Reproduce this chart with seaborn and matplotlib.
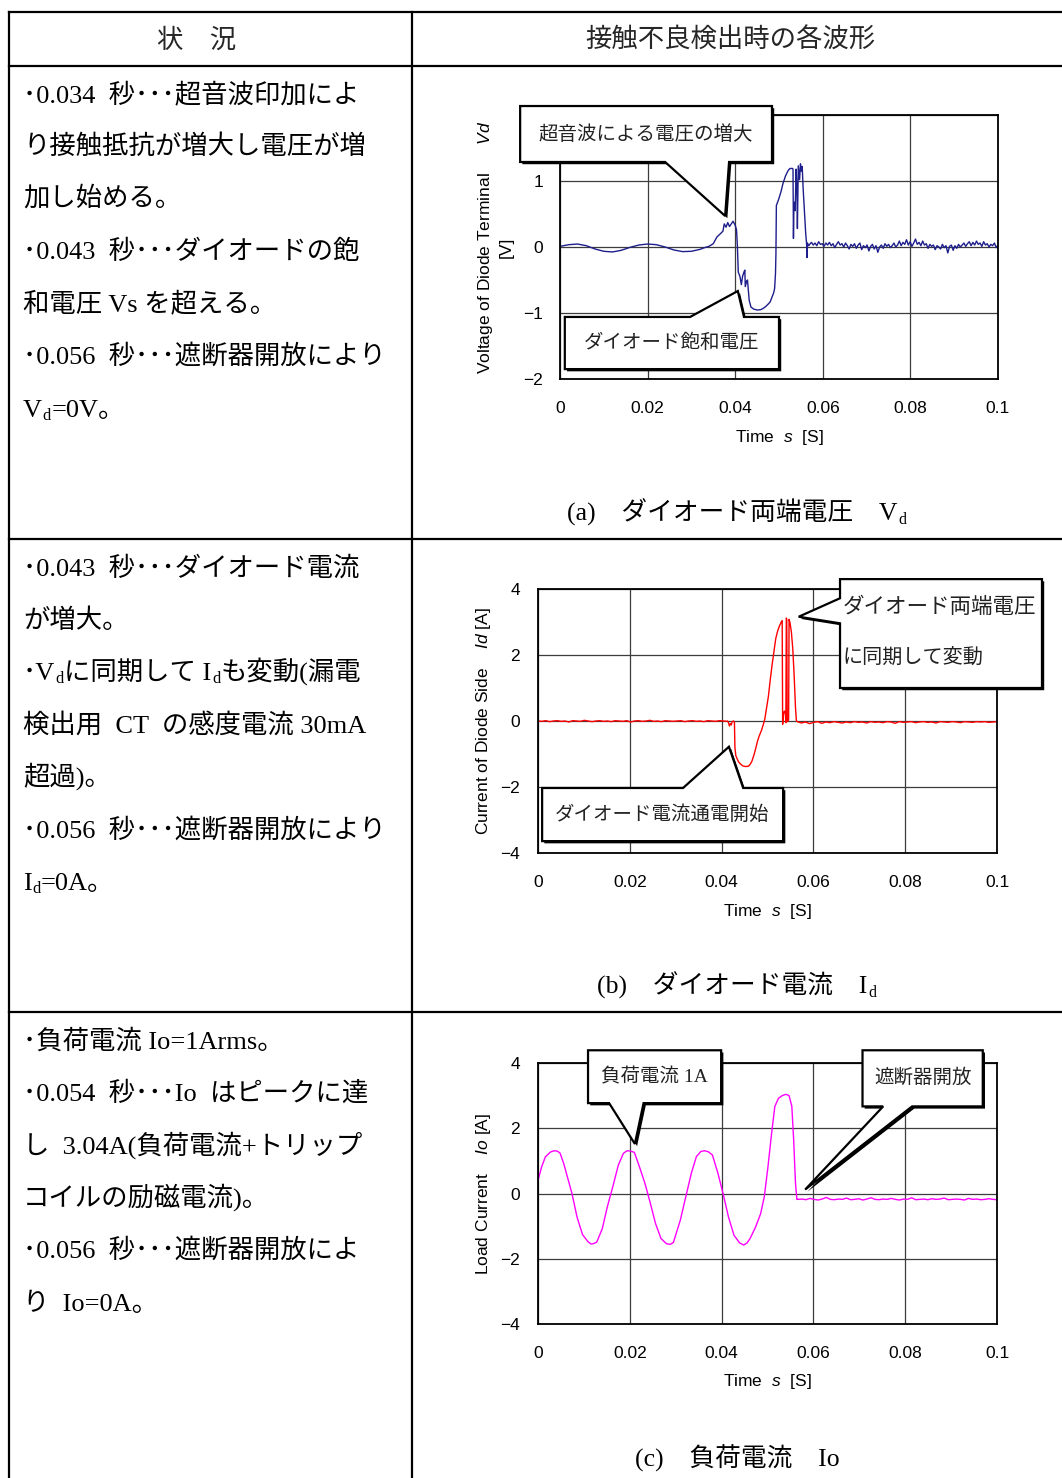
import numpy as np
import pandas as pd
import seaborn as sns
import matplotlib
matplotlib.use("Agg")
import matplotlib.pyplot as plt
from matplotlib.patches import Polygon
from matplotlib.lines import Line2D
from matplotlib.transforms import IdentityTransform
import matplotlib.patheffects as pe

# ---------------------------------------------------------------- data
X_TICKS = [0, 0.02, 0.04, 0.06, 0.08, 0.1]
X_TICK_LABELS = ["0", "0.02", "0.04", "0.06", "0.08", "0.1"]

# (a) diode terminal voltage Vd [V]
VD_T = [0.000, 0.002, 0.004, 0.006, 0.008, 0.010, 0.012, 0.014, 0.016, 0.018,
        0.020, 0.022, 0.024, 0.026, 0.028, 0.030, 0.032, 0.033, 0.034, 0.035,
        0.0358, 0.0366, 0.0372, 0.0375, 0.0379, 0.0383, 0.0387, 0.0390, 0.0395, 0.0400,
        0.0403, 0.0405, 0.0407, 0.0411, 0.0414, 0.0417, 0.0420, 0.0422, 0.0423, 0.0426,
        0.0428, 0.0432, 0.0436, 0.0442, 0.0450, 0.0458, 0.0464, 0.0470, 0.0476, 0.0480,
        0.0484, 0.0488, 0.0490, 0.0492, 0.0493, 0.0494, 0.0498, 0.0501, 0.0505, 0.0509,
        0.0515, 0.0521, 0.0525, 0.0531, 0.0532, 0.0533, 0.0534, 0.0536, 0.0537, 0.0539,
        0.0541, 0.0542, 0.0544, 0.0546, 0.0547, 0.0549, 0.0551, 0.0553, 0.0555, 0.0558,
        0.0561, 0.0563, 0.0564, 0.0565, 0.0568]
VD_V = [0.01, 0.035, 0.045, 0.02, -0.03, -0.065, -0.075, -0.05, -0.005, 0.03,
        0.045, 0.035, 0.0, -0.045, -0.07, -0.065, -0.035, -0.01, 0.01, 0.05,
        0.15, 0.20, 0.24, 0.35, 0.30, 0.37, 0.31, 0.34, 0.39, 0.33,
        0.26, 0.02, -0.38, -0.45, -0.57, -0.44, -0.38, -0.35, -0.60, -0.52,
        -0.50, -0.81, -0.91, -0.94, -0.955, -0.95, -0.93, -0.90, -0.86, -0.83,
        -0.76, -0.69, -0.63, -0.40, -0.10, 0.63, 0.70, 0.76, 0.85, 0.96,
        1.08, 1.16, 1.19, 1.19, 1.18, 0.13, 0.60, 0.68, 0.55, 1.18,
        0.85, 0.28, 1.23, 1.10, 1.02, 1.26, 1.15, 1.22, 0.90, 0.55,
        0.20, 0.05, -0.16, 0.06, 0.02]
# sampled trace after the breaker opens (0.057 s .. 0.1 s)
VD_TAIL = [0.04, 0.07, 0.03, 0.06, 0.02, 0.08, 0.04, 0.05, 0.01, 0.06,
           0.03, 0.07, 0.02, 0.05, -0.01, 0.04, 0.08, 0.03, 0.05, 0.00,
           0.06, 0.02, -0.03, 0.04, 0.01, 0.05, -0.02, 0.03, 0.06, -0.04,
           0.02, -0.01, 0.03, -0.06, 0.01, 0.04, -0.03, 0.02, -0.08, 0.00,
           0.03, -0.02, 0.05, 0.01, 0.04, -0.01, 0.02, 0.06, 0.00, 0.03,
           0.09, 0.02, 0.07, 0.04, 0.11, 0.03, 0.08, 0.01, 0.06, 0.12,
           0.04, 0.07, 0.02, 0.09, 0.03, 0.05, -0.02, 0.04, 0.01, 0.03,
           -0.04, 0.02, 0.00, -0.03, 0.04, -0.01, 0.02, -0.09, 0.01, 0.03,
           -0.05, 0.02, -0.02, 0.04, 0.00, 0.03, 0.06, 0.01, 0.05, 0.08,
           0.02, 0.07, 0.03, 0.09, 0.04, 0.06, 0.01, 0.08, 0.03, 0.05,
           0.00, 0.04, 0.02, 0.06, -0.01, 0.03]

# (b) diode-side current Id [A]
ID_HEAD = [0.00, -0.01, 0.01, -0.02, 0.00, 0.01, -0.01, 0.00, -0.03, 0.01,
           0.00, -0.01, 0.02, 0.00, -0.02, 0.00, 0.01, -0.01, 0.00, -0.02,
           0.01, 0.00, -0.01, 0.01, -0.03, 0.00, 0.01, -0.01, 0.00, 0.02,
           -0.01, 0.00, -0.02, 0.01, 0.00, -0.01, 0.00, 0.01, -0.02, 0.00,
           0.01, -0.01, 0.00, -0.02, 0.01, 0.00, -0.01, 0.01, 0.00, -0.01]
ID_T = [0.0413, 0.0415, 0.0417, 0.0419, 0.0421, 0.0423, 0.0426, 0.0428, 0.0429, 0.0431,
        0.0434, 0.0437, 0.0441, 0.0446, 0.0452, 0.0458, 0.0462, 0.0466, 0.0470, 0.0474,
        0.0478, 0.0482, 0.0487, 0.0491, 0.0494, 0.0498, 0.0502, 0.0506, 0.0510, 0.0514,
        0.0518, 0.0522, 0.0526, 0.0530, 0.0532, 0.0533, 0.0535, 0.0537, 0.0539, 0.0540,
        0.0541, 0.0542, 0.0543, 0.0545, 0.0546, 0.0547, 0.0549, 0.0552, 0.0555, 0.0558,
        0.0561, 0.0563]
ID_V = [0.00, -0.05, -0.15, -0.08, -0.12, -0.02, 0.00, -0.05, -0.80, -1.05,
        -1.15, -1.24, -1.30, -1.36, -1.38, -1.37, -1.32, -1.22, -1.05, -0.85,
        -0.62, -0.45, -0.28, -0.10, 0.05, 0.40, 0.75, 1.25, 1.70, 2.10,
        2.50, 2.72, 2.88, 3.00, 3.04, -0.10, 0.25, 0.30, 0.20, -0.05,
        3.12, 3.08, -0.02, 0.00, 0.05, 3.08, 2.98, 2.70, 2.20, 1.40,
        0.40, 0.00]
ID_TAIL = [-0.02, -0.06, -0.03, -0.08, -0.04, -0.02, -0.07, -0.03, -0.05, -0.02,
           -0.04, -0.06, -0.03, -0.05, -0.02, -0.04, -0.03, -0.06, -0.02, -0.04,
           -0.03, -0.05, -0.02, -0.03, -0.07, -0.02, -0.04, -0.03, -0.02, -0.05,
           -0.03, -0.02, -0.04, -0.03, -0.06, -0.02, -0.03, -0.04, -0.02, -0.03,
           -0.05, -0.02, -0.03, -0.04, -0.02, -0.03, -0.02, -0.04, -0.03, -0.02]

# (c) load current Io [A]
IO_T = [0.0000, 0.0008, 0.0016, 0.0027, 0.0035, 0.0042, 0.0048, 0.0056, 0.0066, 0.0074,
        0.0085, 0.0097, 0.0109, 0.0116, 0.0122, 0.0128, 0.0140, 0.0151, 0.0163, 0.0175,
        0.0186, 0.0194, 0.0202, 0.0210, 0.0221, 0.0233, 0.0245, 0.0256, 0.0268, 0.0280,
        0.0288, 0.0295, 0.0310, 0.0322, 0.0334, 0.0345, 0.0355, 0.0363, 0.0371, 0.0380,
        0.0392, 0.0404, 0.0415, 0.0427, 0.0439, 0.0448, 0.0455, 0.0462, 0.0474, 0.0485,
        0.0493, 0.0501, 0.0509, 0.0516, 0.0524, 0.0532, 0.0540, 0.0547, 0.0553, 0.0557,
        0.0561, 0.0564]
IO_V = [0.40, 0.82, 1.12, 1.27, 1.31, 1.30, 1.24, 0.92, 0.41, 0.00,
        -0.72, -1.26, -1.48, -1.55, -1.53, -1.49, -1.08, -0.41, 0.21, 0.87,
        1.23, 1.31, 1.30, 1.26, 0.82, 0.31, -0.31, -0.92, -1.38, -1.54,
        -1.56, -1.50, -0.82, -0.10, 0.62, 1.13, 1.29, 1.31, 1.28, 1.18,
        0.62, -0.05, -0.72, -1.28, -1.51, -1.58, -1.52, -1.38, -1.03, -0.62,
        -0.10, 0.82, 1.85, 2.67, 2.92, 3.00, 3.04, 3.00, 2.67, 1.64,
        0.31, -0.18]
IO_TAIL = [-0.18, -0.17, -0.19, -0.15, -0.18, -0.20, -0.17, -0.12, -0.18, -0.19,
           -0.17, -0.18, -0.14, -0.19, -0.18, -0.16, -0.20, -0.17, -0.13, -0.18,
           -0.19, -0.17, -0.18, -0.15, -0.18, -0.20, -0.17, -0.18, -0.13, -0.19,
           -0.18, -0.17, -0.19, -0.16, -0.18, -0.17, -0.14, -0.19, -0.18, -0.17,
           -0.18, -0.20, -0.15, -0.18, -0.17, -0.19, -0.18, -0.16, -0.18, -0.19]

# ---------------------------------------------------------------- text
HEADERS = ["状　況", "接触不良検出時の各波形"]
# each line is a list of (text, is_subscript) runs
ROW_TEXT = [
    [[("･0.034  秒･･･超音波印加によ", 0)],
     [("り接触抵抗が増大し電圧が増", 0)],
     [("加し始める。", 0)],
     [("･0.043  秒･･･ダイオードの飽", 0)],
     [("和電圧 Vs を超える。", 0)],
     [("･0.056  秒･･･遮断器開放により", 0)],
     [("V", 0), ("d", 1), ("=0V。", 0)]],
    [[("･0.043  秒･･･ダイオード電流", 0)],
     [("が増大。", 0)],
     [("･V", 0), ("d", 1), ("に同期して I", 0), ("d", 1), ("も変動(漏電", 0)],
     [("検出用  CT  の感度電流 30mA", 0)],
     [("超過)。", 0)],
     [("･0.056  秒･･･遮断器開放により", 0)],
     [("I", 0), ("d", 1), ("=0A。", 0)]],
    [[("･負荷電流 Io=1Arms。", 0)],
     [("･0.054  秒･･･Io  はピークに達", 0)],
     [("し  3.04A(負荷電流+トリップ", 0)],
     [("コイルの励磁電流)。", 0)],
     [("･0.056  秒･･･遮断器開放によ", 0)],
     [("り  Io=0A。", 0)]],
]
CAPTIONS = [
    [("(a)　ダイオード両端電圧　V", 0), ("d", 1)],
    [("(b)　ダイオード電流　I", 0), ("d", 1)],
    [("(c)　負荷電流　Io", 0)],
]

# ---------------------------------------------------------------- style
sns.set_theme(style="white")
plt.rcParams["font.family"] = ["Liberation Sans", "Noto Sans CJK JP"]
plt.rcParams["mathtext.fontset"] = "custom"
plt.rcParams["mathtext.it"] = "Liberation Sans:italic"
plt.rcParams["mathtext.rm"] = "Liberation Sans"
plt.rcParams["axes.unicode_minus"] = True

SERIF_JP = ["Liberation Serif", "Noto Sans CJK JP"]
GOTHIC = ["Noto Sans CJK JP"]

W, H = 1062, 1478
fig = plt.figure(figsize=(W / 100, H / 100), dpi=100)
fig.patch.set_facecolor("white")
renderer = fig.canvas.get_renderer()


def hline(y, x0, x1, lw=1.6):
    fig.add_artist(Line2D([x0, x1], [H - y, H - y], transform=IdentityTransform(),
                          color="black", lw=lw, solid_capstyle="projecting"))


def vline(x, y0, y1, lw=1.6):
    fig.add_artist(Line2D([x, x], [H - y0, H - y1], transform=IdentityTransform(),
                          color="black", lw=lw, solid_capstyle="projecting"))


def text_runs(x, y_base, runs, size, family, center=False):
    """Draw a line of text built from normal and subscript runs (pixel coords)."""
    items = []
    total = 0.0
    for s, sub in runs:
        fs = size * 0.62 if sub else size
        t = fig.text(0, 0, s, transform=IdentityTransform(), fontsize=fs,
                     family=family, va="baseline", ha="left", color="black")
        w = t.get_window_extent(renderer).width
        items.append((t, w, sub))
        total += w + (1.0 if sub else 0)
    x0 = x - total / 2 if center else x
    for t, w, sub in items:
        dy = -size * 1.389 * 0.10 if sub else 0.0
        t.set_position((x0 + (0.3 if sub else 0), H - y_base + dy))
        x0 += w + (1.0 if sub else 0)


# table frame
hline(12, 9, W + 2)
hline(66, 9, W + 2)
hline(539, 9, W + 2)
hline(1012, 9, W + 2)
vline(9, 12, H + 2)
vline(412, 12, H + 2)

fig.text(197 / W, 1 - 40 / H, HEADERS[0], family=GOTHIC, fontsize=19,
         ha="center", va="center")
fig.text(730 / W, 1 - 40 / H, HEADERS[1], family=GOTHIC, fontsize=19,
         ha="center", va="center")

# left column descriptions
row_centers = [[93, 145, 197, 250, 302, 355, 408],
               [567, 619, 671, 724, 776, 829, 881],
               [1040, 1092, 1145, 1197, 1249, 1302]]
for lines, ys in zip(ROW_TEXT, row_centers):
    for runs, yc in zip(lines, ys):
        text_runs(23, yc + 9, runs, 19, SERIF_JP)

for runs, yc in zip(CAPTIONS, [512, 985, 1458]):
    text_runs(737, yc + 9, runs, 18.5, SERIF_JP, center=True)


# ---------------------------------------------------------------- charts
def make_axes(l, t, r, b):
    return fig.add_axes([l / W, 1 - b / H, (r - l) / W, (b - t) / H])


def style_axes(ax, ylim, yticks, ylabel, ylabel_x, ylabel_y_pad):
    ax.set_xlim(0, 0.1)
    ax.set_ylim(*ylim)
    ax.set_xticks(X_TICKS)
    ax.set_xticklabels(X_TICK_LABELS)
    ax.set_yticks(yticks)
    ax.set_yticklabels([f"{v:g}".replace("-", "\u2212") for v in yticks])
    ax.set_axisbelow(True)
    ax.grid(True, color="#3c3c3c", lw=0.9)
    for sp in ax.spines.values():
        sp.set_visible(True)
        sp.set_color("black")
        sp.set_linewidth(1.3)
    ax.tick_params(axis="both", length=0, labelsize=12.5, colors="black")
    ax.tick_params(axis="x", pad=16)
    ax.tick_params(axis="y", pad=ylabel_y_pad)
    ax.set_facecolor("white")
    ax.set_xlabel(r"Time  $\mathit{s}$  [S]", fontsize=12.5, color="black")
    ax.xaxis.set_label_coords(0.5, -0.185)
    ax.set_ylabel(ylabel, fontsize=12.5, color="black", linespacing=1.35)
    ax.yaxis.set_label_coords(ylabel_x, 0.5)


def callout(ax, pts, label, tx, ty, size=14, ha="center"):
    poly = Polygon(pts, closed=True, facecolor="white", edgecolor="black", lw=1.6,
                   clip_on=False, zorder=6, joinstyle="miter",
                   path_effects=[pe.SimplePatchShadow(offset=(1.6, -1.6),
                                                      shadow_rgbFace="black", alpha=1.0),
                                 pe.Normal()])
    ax.add_patch(poly)
    if isinstance(label, str):
        label, tx, ty, size = [label], [tx], [ty], [size]
    for s, x, y, fs in zip(label, tx, ty, size):
        ax.text(x, y, s, fontsize=fs, family=SERIF_JP, ha=ha, va="center",
                zorder=7, clip_on=False, color="#222222")


def trace(ax, t, v, color):
    df = pd.DataFrame({"t": t, "v": v})
    sns.lineplot(data=df, x="t", y="v", ax=ax, color=color, lw=1.0,
                 estimator=None, sort=False, legend=False)


# (a) Vd
ax_a = make_axes(560, 115, 998, 379)
trace(ax_a, VD_T + list(np.linspace(0.0570, 0.1, len(VD_TAIL))), VD_V + VD_TAIL, "#1e1e8c")
style_axes(ax_a, (-2, 2), [-2, -1, 0, 1, 2],
           "Voltage of Diode Terminal      $\\mathit{Vd}$\n[V]", -0.105, 12)
callout(ax_a, [(-0.0091, 2.136), (0.0484, 2.136), (0.0484, 1.288), (0.0386, 1.288),
               (0.0377, 0.47), (0.0240, 1.288), (-0.0091, 1.288)],
        "超音波による電圧の増大", 0.01965, 1.71)
callout(ax_a, [(0.0011, -1.06), (0.0297, -1.06), (0.0406, -0.667), (0.0420, -1.06),
               (0.0500, -1.06), (0.0500, -1.85), (0.0011, -1.85)],
        "ダイオード飽和電圧", 0.0255, -1.45)

# (b) Id
ax_b = make_axes(538, 589, 997, 853)
id_t = list(np.linspace(0.0, 0.0412, len(ID_HEAD))) + ID_T + \
    list(np.linspace(0.0565, 0.1, len(ID_TAIL)))
trace(ax_b, id_t, ID_HEAD + ID_V + ID_TAIL, "#ff0000")
style_axes(ax_b, (-4, 4), [-4, -2, 0, 2, 4],
           "Current of Diode Side    $\\mathit{Id}$ [A]", -0.098, 13)
callout(ax_b, [(0.0658, 4.30), (0.1098, 4.30), (0.1098, 1.00), (0.0658, 1.00),
               (0.0658, 2.96), (0.0568, 3.16), (0.0658, 3.72)],
        ["ダイオード両端電圧", "に同期して変動"], [0.0664, 0.0664], [3.44, 1.91],
        size=[15.5, 14.5], ha="left")
callout(ax_b, [(0.0009, -2.03), (0.0316, -2.03), (0.0416, -0.78), (0.0447, -2.03),
               (0.0534, -2.03), (0.0534, -3.64), (0.0009, -3.64)],
        "ダイオード電流通電開始", 0.0270, -2.83)

# (c) Io
ax_c = make_axes(538, 1063, 997, 1324)
trace(ax_c, IO_T + list(np.linspace(0.0566, 0.1, len(IO_TAIL))), IO_V + IO_TAIL, "#ff00ff")
style_axes(ax_c, (-4, 4), [-4, -2, 0, 2, 4],
           "Load Current    $\\mathit{Io}$ [A]", -0.098, 13)
callout(ax_c, [(0.0109, 4.39), (0.0399, 4.39), (0.0399, 2.77), (0.0230, 2.77),
               (0.0211, 1.52), (0.0155, 2.77), (0.0109, 2.77)],
        "負荷電流 1A", 0.0254, 3.55)
callout(ax_c, [(0.0707, 4.39), (0.0969, 4.39), (0.0969, 2.67), (0.0815, 2.67),
               (0.0582, 0.12), (0.0752, 2.67), (0.0707, 2.67)],
        "遮断器開放", 0.0838, 3.55)

fig.savefig("out.png", dpi=100, facecolor="white")
